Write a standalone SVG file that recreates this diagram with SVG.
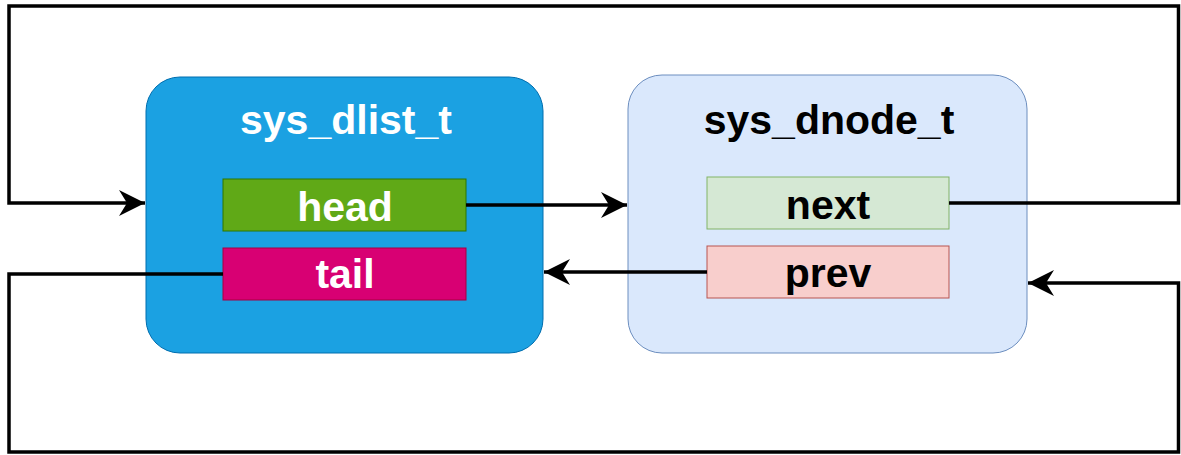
<svg xmlns="http://www.w3.org/2000/svg" width="1181" height="455" viewBox="0 0 1181 455">
  <style>
    .lbl { font-family: "Liberation Sans", Arial, Helvetica, sans-serif; font-weight: bold; font-size: 41px; text-anchor: middle; }
    .white { fill: #ffffff; }
    .dark { fill: #000000; }
    .wire { fill: none; stroke: #000000; stroke-width: 3.5; stroke-linejoin: miter; }
  </style>
  <defs>
    <marker id="arrow" markerUnits="userSpaceOnUse" markerWidth="28" markerHeight="28" viewBox="-26 -14 28 28" refX="0" refY="0" orient="auto">
      <path d="M0,0 L-26,-13 L-18,0 L-26,13 Z" fill="#000000"/>
    </marker>
  </defs>
  <rect width="1181" height="455" fill="#ffffff"/>

  <!-- list header struct -->
  <g id="sys_dlist_t">
    <rect x="146" y="77" width="397" height="276" rx="34" ry="34" fill="#1ba1e2" stroke="#006eaf" stroke-width="1"/>
    <text class="lbl white" x="346" y="134">sys_dlist_t</text>
  </g>
  <g id="head">
    <rect x="223" y="179" width="243" height="52" fill="#60a917" stroke="#2d7600" stroke-width="1"/>
    <text class="lbl white" x="345" y="221">head</text>
  </g>
  <g id="tail">
    <rect x="223" y="248" width="243" height="52" fill="#d80073" stroke="#a50040" stroke-width="1"/>
    <text class="lbl white" x="345" y="288">tail</text>
  </g>

  <!-- node struct -->
  <g id="sys_dnode_t">
    <rect x="628" y="75" width="399" height="278" rx="34" ry="34" fill="#dae8fc" stroke="#6c8ebf" stroke-width="1"/>
    <text class="lbl dark" x="829" y="134">sys_dnode_t</text>
  </g>
  <g id="next">
    <rect x="707" y="177" width="242" height="52" fill="#d5e8d4" stroke="#82b366" stroke-width="1"/>
    <text class="lbl dark" x="828" y="219">next</text>
  </g>
  <g id="prev">
    <rect x="707" y="246" width="242" height="52" fill="#f8cecc" stroke="#b85450" stroke-width="1"/>
    <text class="lbl dark" x="828" y="287">prev</text>
  </g>

  <!-- pointer links -->
  <g id="connectors">
    <path class="wire" d="M466,205 H627" marker-end="url(#arrow)"/>
    <path class="wire" d="M707,272 H544" marker-end="url(#arrow)"/>
    <path class="wire" d="M949,203 H1178.5 V6 H9 V203 H145" marker-end="url(#arrow)"/>
    <path class="wire" d="M223,274 H9 V452 H1178.5 V283 H1028" marker-end="url(#arrow)"/>
  </g>
</svg>
